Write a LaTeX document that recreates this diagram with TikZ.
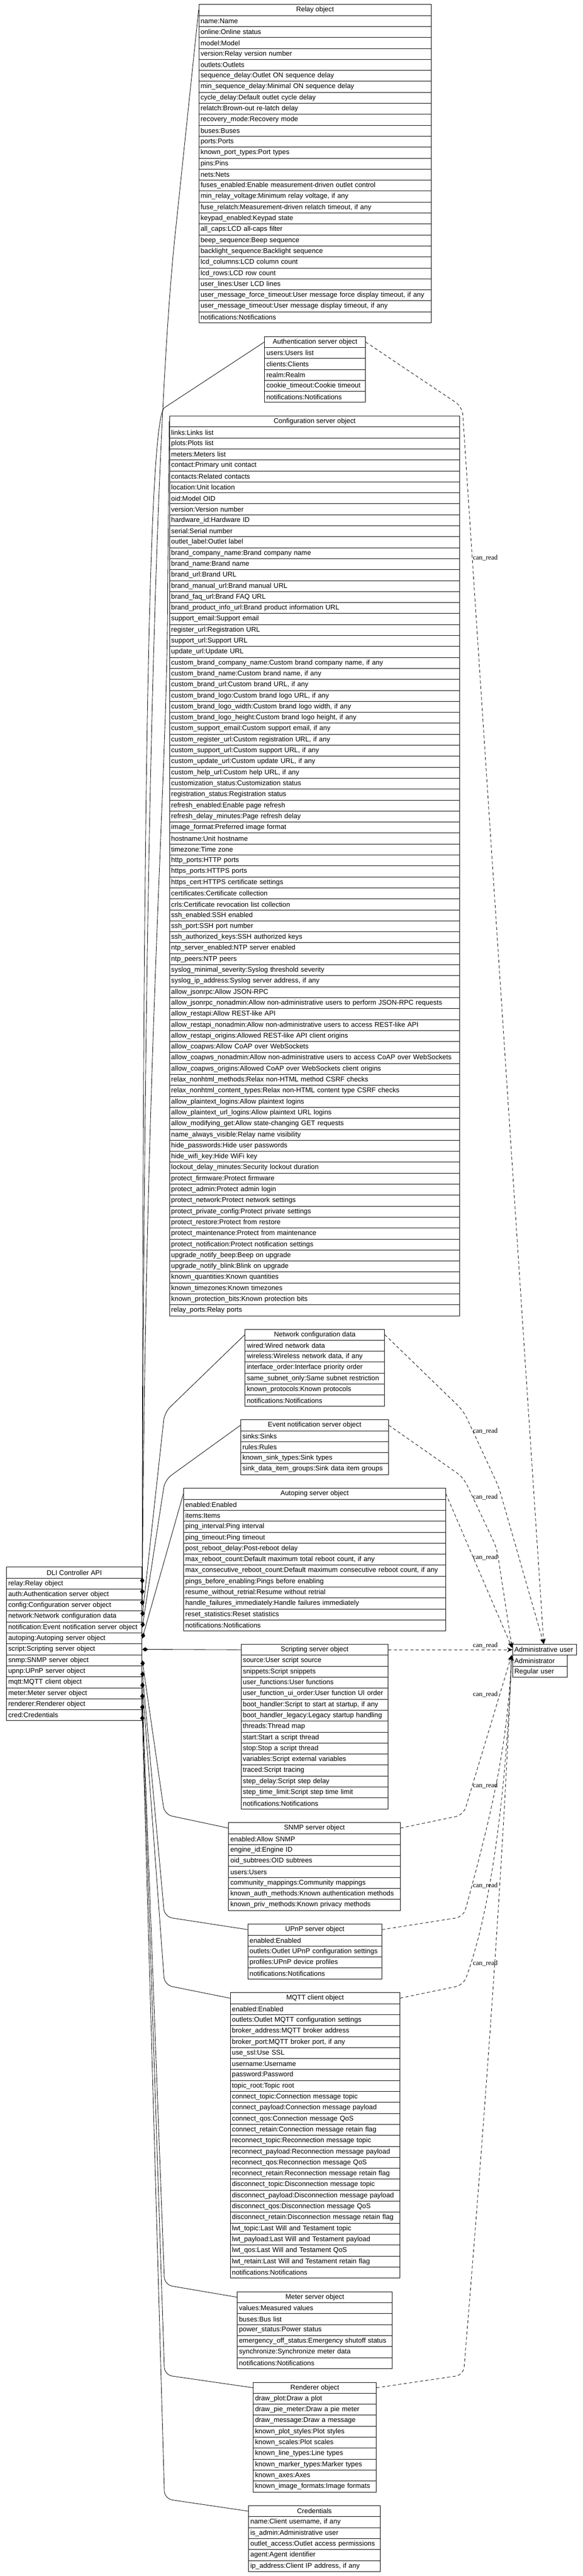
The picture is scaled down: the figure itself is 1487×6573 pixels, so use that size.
\documentclass[tikz,border=0pt]{standalone}
\usepackage{fontspec}
\setmainfont{Liberation Sans}
\newfontfamily\lblfont{Liberation Serif}
\usetikzlibrary{arrows.meta,calc}
\tikzset{
  x=1pt, y=-1pt,
  hdr/.style={draw, line width=1.1pt, minimum height=28pt, inner sep=0pt, anchor=north west, font=\fontsize{17.5}{20}\selectfont},
  fld/.style={draw, line width=1.1pt, minimum height=28pt, inner ysep=0pt, inner xsep=4.5pt, anchor=north west, align=left, font=\fontsize{17.5}{20}\selectfont},
  lbl/.style={inner sep=0pt, anchor=west, font=\lblfont\fontsize{17.5}{19}\selectfont},
  solidedge/.style={line width=1.1pt, {Diamond[length=15pt,width=11pt]}-},
  dashedge/.style={line width=1.1pt, dash pattern=on 8pt off 6pt, -{Stealth[length=14pt,width=12pt,inset=5pt]}},
}
\newcommand\recbox[6]{%
  \node[hdr, minimum width=#3pt] (#1) at (#2,#4) {#5};
  \pgfmathsetmacro\tw{#3-9}%
  \foreach \t [count=\i] in {#6} {
    \node[fld, text width=\tw pt] (#1-\i) at (#2,#4+28*\i) {\mbox{\t}};
  }%
}
\begin{document}
\catcode`\_=12
\begin{tikzpicture}
\fill[white] (0,0) rectangle (1487,6573);
\useasboundingbox (0,0) rectangle (1487,6573);

\recbox{relay}{507}{593}{11}{Relay object}{name:Name,online:Online status,model:Model,version:Relay version number,outlets:Outlets,sequence_delay:Outlet ON sequence delay,min_sequence_delay:Minimal ON sequence delay,cycle_delay:Default outlet cycle delay,relatch:Brown-out re-latch delay,recovery_mode:Recovery mode,buses:Buses,ports:Ports,known_port_types:Port types,pins:Pins,nets:Nets,fuses_enabled:Enable measurement-driven outlet control,{min_relay_voltage:Minimum relay voltage, if any},{fuse_relatch:Measurement-driven relatch timeout, if any},keypad_enabled:Keypad state,all_caps:LCD all-caps filter,beep_sequence:Beep sequence,backlight_sequence:Backlight sequence,lcd_columns:LCD column count,lcd_rows:LCD row count,user_lines:User LCD lines,{user_message_force_timeout:User message force display timeout, if any},{user_message_timeout:User message display timeout, if any},notifications:Notifications}

\recbox{auth}{675}{257}{858}{Authentication server object}{users:Users list,clients:Clients,realm:Realm,cookie_timeout:Cookie timeout,notifications:Notifications}

\recbox{config}{432}{741}{1061}{Configuration server object}{links:Links list,plots:Plots list,meters:Meters list,contact:Primary unit contact,contacts:Related contacts,location:Unit location,oid:Model OID,version:Version number,hardware_id:Hardware ID,serial:Serial number,outlet_label:Outlet label,brand_company_name:Brand company name,brand_name:Brand name,brand_url:Brand URL,brand_manual_url:Brand manual URL,brand_faq_url:Brand FAQ URL,brand_product_info_url:Brand product information URL,support_email:Support email,register_url:Registration URL,support_url:Support URL,update_url:Update URL,{custom_brand_company_name:Custom brand company name, if any},{custom_brand_name:Custom brand name, if any},{custom_brand_url:Custom brand URL, if any},{custom_brand_logo:Custom brand logo URL, if any},{custom_brand_logo_width:Custom brand logo width, if any},{custom_brand_logo_height:Custom brand logo height, if any},{custom_support_email:Custom support email, if any},{custom_register_url:Custom registration URL, if any},{custom_support_url:Custom support URL, if any},{custom_update_url:Custom update URL, if any},{custom_help_url:Custom help URL, if any},customization_status:Customization status,registration_status:Registration status,refresh_enabled:Enable page refresh,refresh_delay_minutes:Page refresh delay,image_format:Preferred image format,hostname:Unit hostname,timezone:Time zone,http_ports:HTTP ports,https_ports:HTTPS ports,https_cert:HTTPS certificate settings,certificates:Certificate collection,crls:Certificate revocation list collection,ssh_enabled:SSH enabled,ssh_port:SSH port number,ssh_authorized_keys:SSH authorized keys,ntp_server_enabled:NTP server enabled,ntp_peers:NTP peers,syslog_minimal_severity:Syslog threshold severity,{syslog_ip_address:Syslog server address, if any},allow_jsonrpc:Allow JSON-RPC,allow_jsonrpc_nonadmin:Allow non-administrative users to perform JSON-RPC requests,allow_restapi:Allow REST-like API,allow_restapi_nonadmin:Allow non-administrative users to access REST-like API,allow_restapi_origins:Allowed REST-like API client origins,allow_coapws:Allow CoAP over WebSockets,allow_coapws_nonadmin:Allow non-administrative users to access CoAP over WebSockets,allow_coapws_origins:Allowed CoAP over WebSockets client origins,relax_nonhtml_methods:Relax non-HTML method CSRF checks,relax_nonhtml_content_types:Relax non-HTML content type CSRF checks,allow_plaintext_logins:Allow plaintext logins,allow_plaintext_url_logins:Allow plaintext URL logins,allow_modifying_get:Allow state-changing GET requests,name_always_visible:Relay name visibility,hide_passwords:Hide user passwords,hide_wifi_key:Hide WiFi key,lockout_delay_minutes:Security lockout duration,protect_firmware:Protect firmware,protect_admin:Protect admin login,protect_network:Protect network settings,protect_private_config:Protect private settings,protect_restore:Protect from restore,protect_maintenance:Protect from maintenance,protect_notification:Protect notification settings,upgrade_notify_beep:Beep on upgrade,upgrade_notify_blink:Blink on upgrade,known_quantities:Known quantities,known_timezones:Known timezones,known_protection_bits:Known protection bits,relay_ports:Relay ports}

\recbox{network}{625}{356}{3391}{Network configuration data}{wired:Wired network data,{wireless:Wireless network data, if any},interface_order:Interface priority order,same_subnet_only:Same subnet restriction,known_protocols:Known protocols,notifications:Notifications}

\recbox{notification}{614}{377}{3622}{Event notification server object}{sinks:Sinks,rules:Rules,known_sink_types:Sink types,sink_data_item_groups:Sink data item groups}

\recbox{autoping}{468}{669}{3797}{Autoping server object}{enabled:Enabled,items:Items,ping_interval:Ping interval,ping_timeout:Ping timeout,post_reboot_delay:Post-reboot delay,{max_reboot_count:Default maximum total reboot count, if any},{max_consecutive_reboot_count:Default maximum consecutive reboot count, if any},pings_before_enabling:Pings before enabling,resume_without_retrial:Resume without retrial,handle_failures_immediately:Handle failures immediately,reset_statistics:Reset statistics,notifications:Notifications}

\recbox{script}{615}{375}{4195}{Scripting server object}{source:User script source,snippets:Script snippets,user_functions:User functions,user_function_ui_order:User function UI order,{boot_handler:Script to start at startup, if any},boot_handler_legacy:Legacy startup handling,threads:Thread map,start:Start a script thread,stop:Stop a script thread,variables:Script external variables,traced:Script tracing,step_delay:Script step delay,step_time_limit:Script step time limit,notifications:Notifications}

\recbox{snmp}{583}{438}{4650}{SNMP server object}{enabled:Allow SNMP,engine_id:Engine ID,oid_subtrees:OID subtrees,users:Users,community_mappings:Community mappings,known_auth_methods:Known authentication methods,known_priv_methods:Known privacy methods}

\recbox{upnp}{632}{342}{4909}{UPnP server object}{enabled:Enabled,outlets:Outlet UPnP configuration settings,profiles:UPnP device profiles,notifications:Notifications}

\recbox{mqtt}{587}{433}{5084}{MQTT client object}{enabled:Enabled,outlets:Outlet MQTT configuration settings,broker_address:MQTT broker address,{broker_port:MQTT broker port, if any},use_ssl:Use SSL,username:Username,password:Password,topic_root:Topic root,connect_topic:Connection message topic,connect_payload:Connection message payload,connect_qos:Connection message QoS,connect_retain:Connection message retain flag,reconnect_topic:Reconnection message topic,reconnect_payload:Reconnection message payload,reconnect_qos:Reconnection message QoS,reconnect_retain:Reconnection message retain flag,disconnect_topic:Disconnection message topic,disconnect_payload:Disconnection message payload,disconnect_qos:Disconnection message QoS,disconnect_retain:Disconnection message retain flag,lwt_topic:Last Will and Testament topic,lwt_payload:Last Will and Testament payload,lwt_qos:Last Will and Testament QoS,lwt_retain:Last Will and Testament retain flag,notifications:Notifications}

\recbox{meter}{605}{396}{5847}{Meter server object}{values:Measured values,buses:Bus list,power_status:Power status,emergency_off_status:Emergency shutoff status,synchronize:Synchronize meter data,notifications:Notifications}

\recbox{renderer}{646}{314}{6078}{Renderer object}{draw_plot:Draw a plot,draw_pie_meter:Draw a pie meter,draw_message:Draw a message,known_plot_styles:Plot styles,known_scales:Plot scales,known_line_types:Line types,known_marker_types:Marker types,known_axes:Axes,known_image_formats:Image formats}

\recbox{cred}{634}{336}{6393}{Credentials}{{name:Client username, if any},is_admin:Administrative user,outlet_access:Outlet access permissions,agent:Agent identifier,{ip_address:Client IP address, if any}}

\recbox{dli}{16}{346}{3998}{DLI Controller API}{relay:Relay object,auth:Authentication server object,config:Configuration server object,network:Network configuration data,notification:Event notification server object,autoping:Autoping server object,script:Scripting server object,snmp:SNMP server object,upnp:UPnP server object,mqtt:MQTT client object,meter:Meter server object,renderer:Renderer object,cred:Credentials}

% administrative user
\node[fld, text width=154pt] (adm) at (1308,4195) {\mbox{Administrative user}};
\node[fld, text width=130pt] (adm-1) at (1308,4223) {\mbox{Administrator}};
\node[fld, text width=130pt] (adm-2) at (1308,4251) {\mbox{Regular user}};
\coordinate (admT) at ($(adm.north west)+(80,0)$);
\coordinate (admWu) at ($(adm.west)+(-1,-5)$);
\coordinate (admWd) at ($(adm.south west)+(-2,-1)$);

% solid edges from the API record
\draw[solidedge] (dli-1.east) .. controls (368,2000) and (405,1000) .. (447,599) -- (relay.west);
\draw[solidedge] (dli-2.east) .. controls (364,2000) and (380,1066) .. (420,1040) -- (auth.west);
\draw[solidedge] (dli-3.east) .. controls (372,2600) and (428,2000) .. (428,1500) -- (config.west);
\draw[solidedge, rounded corners=20pt] (dli-4.east) -- (420,3604) -- (network.west);
\draw[solidedge, rounded corners=20pt] (dli-5.east) -- (421,3776) -- (notification.west);
\draw[solidedge] (dli-6.east) -- (autoping.west);
\draw[solidedge] (dli-7.east) -- (script.west);
\draw[solidedge, rounded corners=20pt] (dli-8.east) -- (420,4630) -- (snmp.west);
\draw[solidedge, rounded corners=20pt] (dli-9.east) -- (420,4891) -- (upnp.west);
\draw[solidedge, rounded corners=20pt] (dli-10.east) -- (420,5065) -- (mqtt.west);
\draw[solidedge, rounded corners=20pt] (dli-11.east) -- (420,5830) -- (meter.west);
\draw[solidedge, rounded corners=20pt] (dli-12.east) -- (420,6060) -- (renderer.west);
\draw[solidedge, rounded corners=20pt] (dli-13.east) -- (420,6376) -- (cred.west);

% dashed edges to the administrative user
\draw[dashedge, rounded corners=20pt] (auth.east) -- (1180,1038) -- (admT);
\draw[dashedge, rounded corners=20pt] (network.east) -- (1183,3600) -- (1273,3794) -- (admT);
\draw[dashedge, rounded corners=20pt] (notification.east) -- (1183,3770) -- (1268,3950) -- (admWu);
\draw[dashedge] (autoping.east) -- (admWu);
\draw[dashedge] (script.east) -- (adm.west);
\draw[dashedge, rounded corners=20pt] (snmp.east) -- (1183,4631) -- (admWd);
\draw[dashedge, rounded corners=20pt] (upnp.east) -- (1183,4891) .. controls (1260,4610) and (1295,4450) .. (admWd);
\draw[dashedge, rounded corners=20pt] (mqtt.east) -- (1183,5065) .. controls (1265,4840) and (1295,4500) .. (admWd);
\draw[dashedge, rounded corners=20pt] (renderer.east) -- (1183,6060) .. controls (1270,5009) and (1295,4500) .. (admWd);

% edge labels
\node[lbl] (l-auth) at (1207,1424) {can_read};
\node[lbl] (l-network) at (1207,3652) {can_read};
\node[lbl] (l-notification) at (1207,3820) {can_read};
\node[lbl] (l-autoping) at (1207,3973) {can_read};
\node[lbl] (l-script) at (1207,4198) {can_read};
\node[lbl] (l-snmp) at (1207,4323) {can_read};
\node[lbl] (l-upnp) at (1207,4556) {can_read};
\node[lbl] (l-mqtt) at (1207,4811) {can_read};
\node[lbl] (l-renderer) at (1207,5009) {can_read};
\end{tikzpicture}
\end{document}
